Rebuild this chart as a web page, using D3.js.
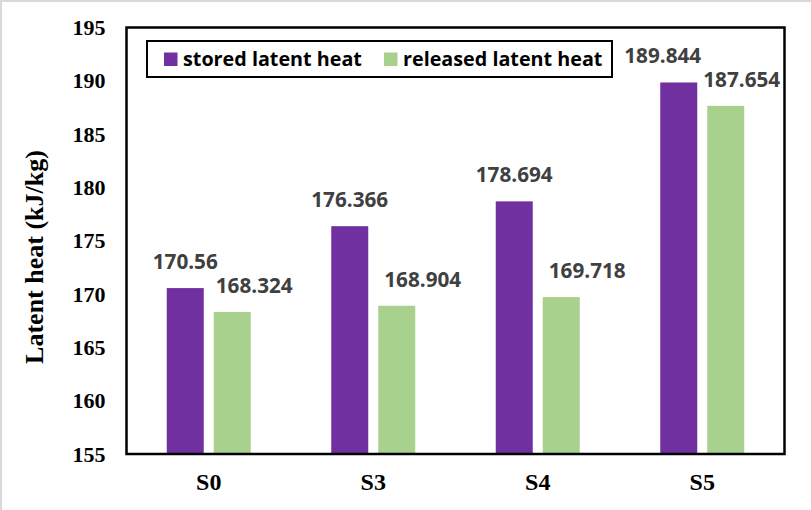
<!DOCTYPE html>
<html><head><meta charset="utf-8">
<script src="https://cdn.jsdelivr.net/npm/d3@7"></script>
<style>body{margin:0;background:#fff}svg{display:block}</style>
</head><body>
<script>
const categories = ["S0", "S3", "S4", "S5"];
const seriesNames = ["stored latent heat", "released latent heat"];
const stored = [170.56, 176.366, 178.694, 189.844];
const released = [168.324, 168.904, 169.718, 187.654];
const yTicks = [155, 160, 165, 170, 175, 180, 185, 190, 195];
const storedLabels = ["170.56", "176.366", "178.694", "189.844"];
const releasedLabels = ["168.324", "168.904", "169.718", "187.654"];
// label nudges (pixels) as placed in the original figure
const storedNudge = [0, 0, 0, -16];
const releasedNudge = [22, 26, 26, 16];

const W = 811, H = 510;
const colors = ["#7030A0", "#A9D18E"];
const sansFont = "'Open Sans', Lato, sans-serif";
const serifFont = "'Liberation Serif', 'Times New Roman', serif";
const svg = d3.select("body").append("svg").attr("width", W).attr("height", H);

// fit a font size so that the sample text has the wanted width
function fitSize(sample, family, target) {
  const t = svg.append("text").attr("font-family", family).attr("font-weight", "bold")
    .attr("font-size", 20).text(sample);
  const w = t.node().getComputedTextLength();
  t.remove();
  return 20 * target / w;
}
const labelSize = Math.min(22, fitSize("168.324", sansFont, 77));
const legendSize = Math.min(22, fitSize("stored latent heat", sansFont, 179));

// outer light border (top & left visible)
svg.append("line").attr("x1",0).attr("x2",W).attr("y1",1).attr("y2",1).attr("stroke","#d9d9d9").attr("stroke-width",2);
svg.append("line").attr("x1",1).attr("x2",1).attr("y1",0).attr("y2",H).attr("stroke","#d9d9d9").attr("stroke-width",2);

const pL = 126.5, pR = 784.5, pT = 27.5, pB = 454;
const x = d3.scaleBand().domain(categories).range([pL, pR]);
const y = d3.scaleLinear().domain([155, 195]).range([pB, pT]);
const barW = 37, gap = 10;

const data = categories.map((c, i) => ({c, vals: [stored[i], released[i]], labs: [storedLabels[i], releasedLabels[i]], nud: [storedNudge[i], releasedNudge[i]]}));

const g = svg.append("g");
data.forEach(d => {
  const cx = x(d.c) + x.bandwidth() / 2;
  [0, 1].forEach(s => {
    const bx = s === 0 ? cx - gap/2 - barW : cx + gap/2;
    g.append("rect").attr("x", bx).attr("y", y(d.vals[s])).attr("width", barW)
      .attr("height", y(155) - y(d.vals[s])).attr("fill", colors[s]);
    g.append("text").attr("x", bx + barW/2 + d.nud[s]).attr("y", y(d.vals[s]) - 19)
      .attr("text-anchor", "middle").attr("font-family", sansFont)
      .attr("font-weight", "bold").attr("font-size", labelSize).attr("fill", "#404040").text(d.labs[s]);
  });
});

// frame
svg.append("rect").attr("x", pL).attr("y", pT).attr("width", pR - pL).attr("height", pB - pT)
  .attr("fill", "none").attr("stroke", "#000").attr("stroke-width", 2.5);

// y axis
const yAxis = d3.axisLeft(y).tickValues(yTicks).tickSize(0).tickPadding(21).tickFormat(d3.format("d"));
const ya = svg.append("g").attr("transform", `translate(${pL},0)`).call(yAxis);
ya.select(".domain").remove();
ya.selectAll("text").attr("font-family", serifFont)
  .attr("font-weight", "bold").attr("font-size", 22).attr("fill", "#000");

// x axis
const xAxis = d3.axisBottom(x).tickSize(0).tickPadding(19);
const xa = svg.append("g").attr("transform", `translate(0,${pB})`).call(xAxis);
xa.select(".domain").remove();
xa.selectAll("text").attr("font-family", serifFont)
  .attr("font-weight", "bold").attr("font-size", 24).attr("fill", "#000");

// y title
svg.append("text").attr("transform", "translate(43,257) rotate(-90)").attr("text-anchor", "middle")
  .attr("font-family", serifFont).attr("font-weight", "bold")
  .attr("font-size", 26).attr("fill", "#000").text("Latent heat (kJ/kg)");

// legend
const lg = svg.append("g");
lg.append("rect").attr("x", 147).attr("y", 41).attr("width", 465).attr("height", 36)
  .attr("fill", "#fff").attr("stroke", "#000").attr("stroke-width", 2);
const legX = [164, 384];
seriesNames.forEach((n, i) => {
  lg.append("rect").attr("x", legX[i]).attr("y", 52.5).attr("width", 13.5).attr("height", 13.5).attr("fill", colors[i]);
  lg.append("text").attr("x", legX[i] + 19).attr("y", 65.5).attr("font-family", sansFont)
    .attr("font-weight", "bold").attr("font-size", legendSize).attr("fill", "#000").text(n);
});
</script>
</body></html>
